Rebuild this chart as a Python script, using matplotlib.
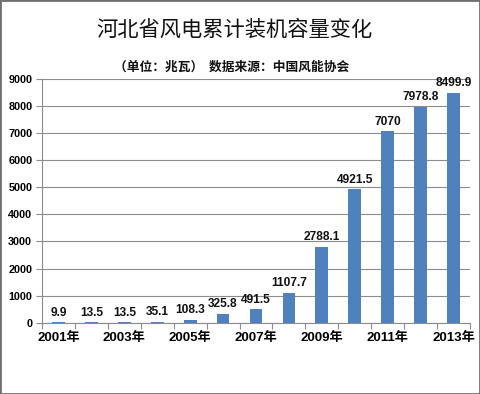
import matplotlib
matplotlib.use("Agg")
import matplotlib.pyplot as plt
from matplotlib.patches import Rectangle

years = ["2001", "2002", "2003", "2004", "2005", "2006", "2007",
         "2008", "2009", "2010", "2011", "2012", "2013"]
capacity = [9.9, 13.5, 13.5, 35.1, 108.3, 325.8, 491.5,
            1107.7, 2788.1, 4921.5, 7070, 7978.8, 8499.9]
value_labels = ["9.9", "13.5", "13.5", "35.1", "108.3", "325.8", "491.5",
                "1107.7", "2788.1", "4921.5", "7070", "7978.8", "8499.9"]
yticks = [0, 1000, 2000, 3000, 4000, 5000, 6000, 7000, 8000, 9000]
title = "河北省风电累计装机容量变化"
subtitle = "（单位：兆瓦）  数据来源：中国风能协会"

W, H, DPI = 480, 394, 100
fig = plt.figure(figsize=(W / DPI, H / DPI), dpi=DPI)
fig.patch.set_facecolor("white")

ax = fig.add_axes([42 / W, (H - 322.7) / H, 428 / W, (322.7 - 79) / H])
x = list(range(len(years)))
ax.bar(x, capacity, width=0.39, color="#4F81BD", zorder=3)

ax.set_xlim(-0.5, len(years) - 0.5)
ax.set_ylim(0, 9000)
ax.set_yticks(yticks)
ax.set_yticklabels([str(v) for v in yticks], fontsize=7.8, fontweight="bold",
                   family=["Liberation Sans"])
ax.yaxis.grid(True, color="#8c8c8c", linewidth=0.8, zorder=0)
ax.tick_params(axis="y", length=4, width=0.8, color="#8c8c8c", pad=3)

# x labels every other year, tick marks at category boundaries
ax.set_xticks(x[::2])
ax.set_xticklabels([y + "年" for y in years[::2]], fontsize=9.5, fontweight="bold",
                   family=["Liberation Sans", "Noto Sans CJK SC"])
ax.tick_params(axis="x", which="major", length=0, pad=7)
ax.set_xticks([i - 0.5 for i in range(len(years) + 1)], minor=True)
ax.tick_params(axis="x", which="minor", length=4, width=0.8, color="#8c8c8c")

for s in ["top", "right"]:
    ax.spines[s].set_visible(False)
for s in ["left", "bottom"]:
    ax.spines[s].set_color("#8c8c8c")
    ax.spines[s].set_linewidth(0.8)

for xi, v, lab in zip(x, capacity, value_labels):
    ax.annotate(lab, (xi, v), xytext=(0, 7), textcoords="offset points",
                ha="center", va="center", fontsize=8.6, fontweight="bold",
                family=["Liberation Sans"], color="#111111")

fig.text(234 / W, 1 - 30 / H, title, ha="center", va="center", fontsize=15.3,
         fontweight="medium", family=["Noto Sans CJK SC"], color="#111111")
fig.text(232 / W, 1 - 67 / H, subtitle, ha="center", va="center", fontsize=9.2,
         fontweight="bold", family=["Noto Sans CJK SC"], color="#111111")

fig.patches.append(Rectangle((0, 0), 1, 1, transform=fig.transFigure, fill=False,
                             edgecolor="#707070", linewidth=2))

fig.savefig("out.png", dpi=DPI)
